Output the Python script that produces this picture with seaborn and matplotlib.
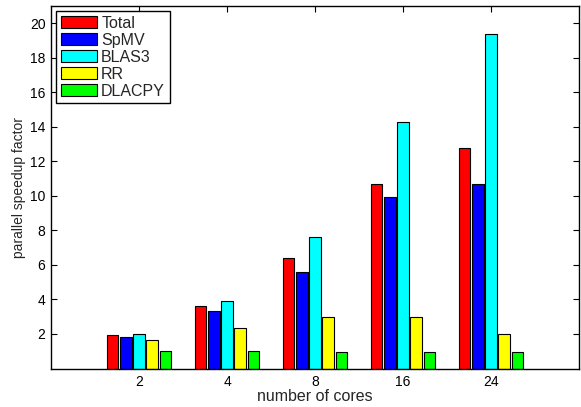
import matplotlib
matplotlib.use("Agg")
import matplotlib.pyplot as plt
import numpy as np
import pandas as pd
import seaborn as sns

# Parallel speedup per kernel for each core count
cores = ["2", "4", "8", "16", "24"]
kernels = ["Total", "SpMV", "BLAS3", "RR", "DLACPY"]
total = [1.94, 3.62, 6.40, 10.66, 12.75]
spmv = [1.82, 3.31, 5.57, 9.91, 10.66]
blas3 = [2.00, 3.91, 7.60, 14.29, 19.37]
rr = [1.65, 2.36, 2.98, 2.98, 2.00]
dlacpy = [1.01, 1.00, 0.97, 0.96, 0.94]
yticks = [2, 4, 6, 8, 10, 12, 14, 16, 18, 20]

colors = ["#ff0000", "#0000ff", "#00ffff", "#ffff00", "#00ff00"]

series = [total, spmv, blas3, rr, dlacpy]
df = pd.DataFrame(
    [(c, k, v) for k, vals in zip(kernels, series) for c, v in zip(cores, vals)],
    columns=["cores", "kernel", "speedup"],
)

sns.set_style("ticks")
plt.rcParams["font.family"] = ["Liberation Sans", "DejaVu Sans"]
plt.rcParams["axes.linewidth"] = 1.0

fig = plt.figure(figsize=(5.81, 4.07), dpi=100)
ax = fig.add_axes([51 / 581, 38.5 / 407, 528 / 581, 362.5 / 407])

sns.barplot(
    data=df, x="cores", y="speedup", hue="kernel",
    order=cores, hue_order=kernels, palette=colors,
    width=0.755, gap=0.12, errorbar=None,
    edgecolor="black", linewidth=0.8, saturation=1.0, ax=ax,
)

ax.set_xlim(-1, 5)
ax.set_ylim(0, 21)
ax.set_yticks(yticks)
ax.set_yticklabels([str(t) for t in yticks])

for side in ["top", "right", "left", "bottom"]:
    ax.spines[side].set_visible(True)
    ax.spines[side].set_color("black")

ax.tick_params(axis="both", direction="in", length=4, width=0.8,
               top=True, right=True, labelsize=10, colors="black")
ax.tick_params(axis="x", pad=5)
ax.tick_params(axis="y", pad=4)

ax.set_xlabel("number of cores", fontsize=11.5, labelpad=0)
ax.set_ylabel("parallel speedup factor", fontsize=10, labelpad=3)

leg = ax.legend(
    loc="upper left", bbox_to_anchor=(0.0095, 0.986), borderaxespad=0,
    fontsize=11.5, frameon=True, fancybox=False, framealpha=1,
    edgecolor="black", handlelength=2.25, handleheight=0.8,
    handletextpad=0.28, labelspacing=0.12, borderpad=0.3, title=None,
)
leg.get_frame().set_linewidth(1.0)

fig.savefig("out.png", dpi=100)
